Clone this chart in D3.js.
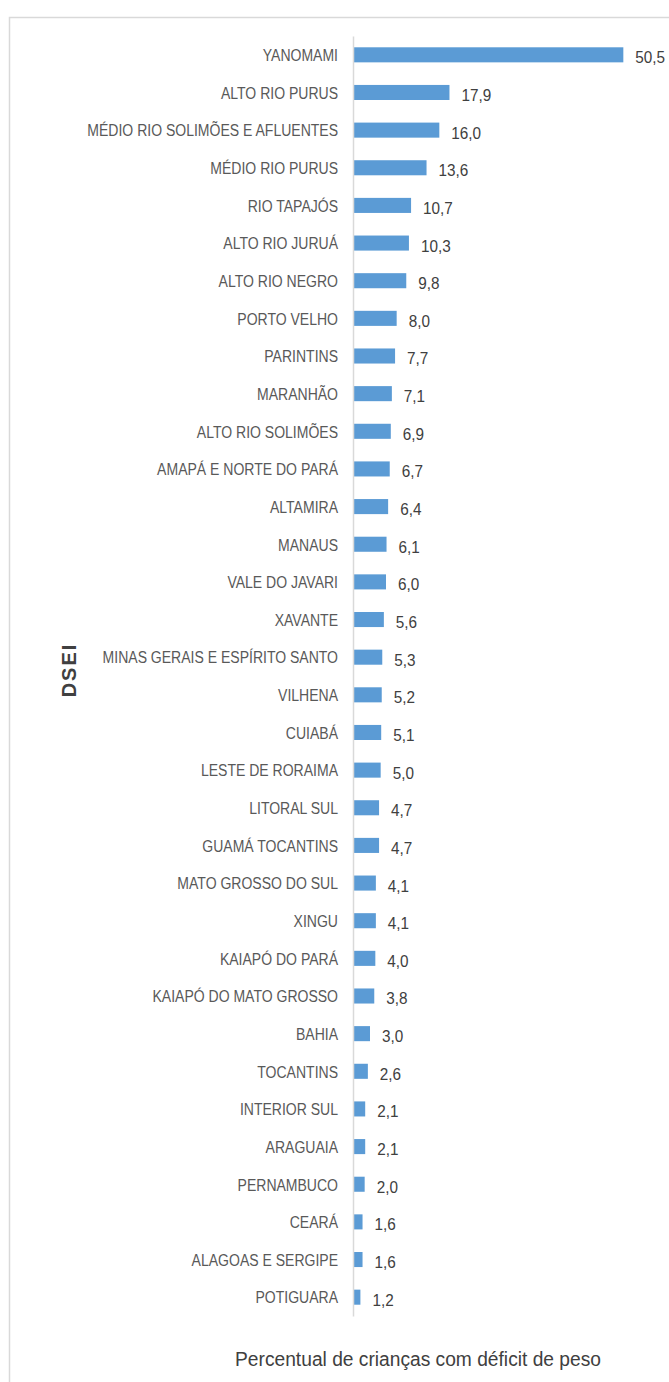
<!DOCTYPE html>
<html>
<head>
<meta charset="utf-8">
<script src="https://cdn.jsdelivr.net/npm/d3@7"></script>
<style>
  body { margin: 0; background: #fff; }
  text { font-family: 'Liberation Sans', Arial, sans-serif; }
</style>
</head>
<body>
<div id="vis"></div>
<script>
// DSEI names, top to bottom
let dseis = ['YANOMAMI', 'ALTO RIO PURUS', 'MÉDIO RIO SOLIMÕES E AFLUENTES', 'MÉDIO RIO PURUS',
    'RIO TAPAJÓS', 'ALTO RIO JURUÁ', 'ALTO RIO NEGRO', 'PORTO VELHO', 'PARINTINS', 'MARANHÃO',
    'ALTO RIO SOLIMÕES', 'AMAPÁ E NORTE DO PARÁ', 'ALTAMIRA', 'MANAUS', 'VALE DO JAVARI', 'XAVANTE',
    'MINAS GERAIS E ESPÍRITO SANTO', 'VILHENA', 'CUIABÁ', 'LESTE DE RORAIMA', 'LITORAL SUL',
    'GUAMÁ TOCANTINS', 'MATO GROSSO DO SUL', 'XINGU', 'KAIAPÓ DO PARÁ', 'KAIAPÓ DO MATO GROSSO',
    'BAHIA', 'TOCANTINS', 'INTERIOR SUL', 'ARAGUAIA', 'PERNAMBUCO', 'CEARÁ', 'ALAGOAS E SERGIPE',
    'POTIGUARA'];

let percentuais = [50.5, 17.9, 16.0, 13.6, 10.7, 10.3, 9.8, 8.0, 7.7, 7.1, 6.9, 6.7, 6.4, 6.1, 6.0,
    5.6, 5.3, 5.2, 5.1, 5.0, 4.7, 4.7, 4.1, 4.1, 4.0, 3.8, 3.0, 2.6, 2.1, 2.1, 2.0, 1.6, 1.6, 1.2];

let xDomain = [0, 60];

let data = dseis.map((nome, i) => ({nome: nome, valor: percentuais[i]}));

let width = 669, height = 1382;
let margin = {top: 36, right: -5, bottom: 66, left: 354};
let squeeze = 0.85;   // narrow the text, the original uses a condensed face

let svg = d3.select('#vis')
    .append('svg')
    .attr('width', width)
    .attr('height', height);

// chart border (right/bottom edges run off the picture)
svg.append('rect')
    .attr('x', 9.5)
    .attr('y', 17.5)
    .attr('width', 700)
    .attr('height', 1400)
    .attr('fill', 'none')
    .attr('stroke', '#d9d9d9')
    .attr('stroke-width', 1.5);

let xScale = d3.scaleLinear()
    .domain(xDomain)
    .range([margin.left, width - margin.right]);

let yScale = d3.scaleBand()
    .domain(dseis)
    .range([margin.top, height - margin.bottom])
    .paddingInner(0.6)
    .paddingOuter(0.3);

// bars
svg.selectAll('rect.bar')
    .data(data)
    .enter()
    .append('rect')
    .attr('class', 'bar')
    .attr('x', xScale(0))
    .attr('y', d => yScale(d.nome))
    .attr('width', d => xScale(d.valor) - xScale(0))
    .attr('height', yScale.bandwidth())
    .attr('fill', '#5b9bd5');

// value labels
svg.selectAll('text.valor')
    .data(data)
    .enter()
    .append('text')
    .attr('class', 'valor')
    .attr('transform', d => 'translate(' + (xScale(d.valor) + 12) + ',' + (yScale(d.nome) + yScale.bandwidth() / 2 + 2) + ') scale(0.9,1)')
    .attr('dy', '0.38em')
    .attr('font-size', 17)
    .attr('fill', '#404040')
    .text(d => d3.format('.1f')(d.valor).replace('.', ','));

// category axis
let yAxis = d3.axisLeft(yScale).tickSize(0).tickPadding(0);
let gy = svg.append('g')
    .attr('transform', 'translate(' + (xScale(0) - 1) + ',0)')
    .call(yAxis);
gy.select('.domain').attr('stroke', '#d9d9d9').attr('stroke-width', 1.5);
gy.selectAll('text')
    .attr('x', 0)
    .attr('y', 1)
    .attr('transform', 'translate(-15,0) scale(' + squeeze + ',1)')
    .attr('font-size', 16.5)
    .attr('fill', '#595959')
    .style('font-family', "'Liberation Sans', Arial, sans-serif");

// axis titles
svg.append('text')
    .attr('transform', 'translate(76,670) rotate(-90)')
    .attr('text-anchor', 'middle')
    .attr('font-size', 20)
    .attr('font-weight', 'bold')
    .attr('letter-spacing', 2)
    .attr('fill', '#404040')
    .text('DSEI');

svg.append('text')
    .attr('transform', 'translate(418,1366) scale(0.96,1)')
    .attr('text-anchor', 'middle')
    .attr('font-size', 20)
    .attr('fill', '#404040')
    .text('Percentual de crianças com déficit de peso');
</script>
</body>
</html>
